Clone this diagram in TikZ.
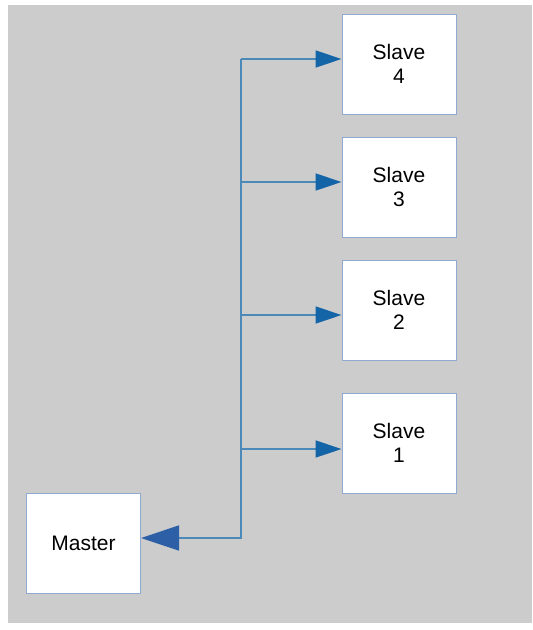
\documentclass[tikz,border=0pt]{standalone}
\usepackage{fontspec}
\setmainfont{Liberation Sans}
\usepackage{tikz}
\usetikzlibrary{arrows.meta,positioning}

\definecolor{panel}{HTML}{CCCCCC}
\definecolor{boxedge}{HTML}{8FAAD0}
\definecolor{busline}{HTML}{4A89B8}
\definecolor{tipblue}{HTML}{1464A8}
\definecolor{mastertip}{HTML}{2D5FA6}

\tikzset{
  unit/.style={draw=boxedge, line width=1pt, fill=white, minimum width=114pt,
    minimum height=100pt, inner sep=0pt, align=center,
    font=\fontsize{21}{24}\selectfont},
  bus/.style={draw=busline, line width=1.4pt},
  tap/.style={bus, -{Triangle[length=26pt,width=17pt,fill=tipblue,color=tipblue]}},
}

\begin{document}
\begin{tikzpicture}[x=1pt, y=-1pt]
  % fond gris
  \useasboundingbox (0,0) rectangle (533,630);
  \fill[panel] (8,5) rectangle (532,623);

  % maitre et esclaves
  \node[unit] (master) at (83.5,543.5) {Master};
  \node[unit] (slave4) at (399,64) {Slave\\4};
  \node[unit] (slave3) at (399,187) {Slave\\3};
  \node[unit] (slave2) at (399,310) {Slave\\2};
  \node[unit] (slave1) at (399,443) {Slave\\1};

  % points du bus
  \coordinate (tap4) at (241,59);
  \coordinate (tap3) at (241,182);
  \coordinate (tap2) at (241,315);
  \coordinate (tap1) at (241,449);
  \coordinate (foot) at (241,538);

  % bus vertical vers le maitre
  \draw[bus, -{Triangle[length=38pt,width=25pt,fill=mastertip,color=mastertip]}]
    (tap4) -- (foot) -- (master.east |- foot);

  % branches vers les esclaves
  \draw[tap] (tap4) -- (slave4.west |- tap4);
  \draw[tap] (tap3) -- (slave3.west |- tap3);
  \draw[tap] (tap2) -- (slave2.west |- tap2);
  \draw[tap] (tap1) -- (slave1.west |- tap1);
\end{tikzpicture}
\end{document}
